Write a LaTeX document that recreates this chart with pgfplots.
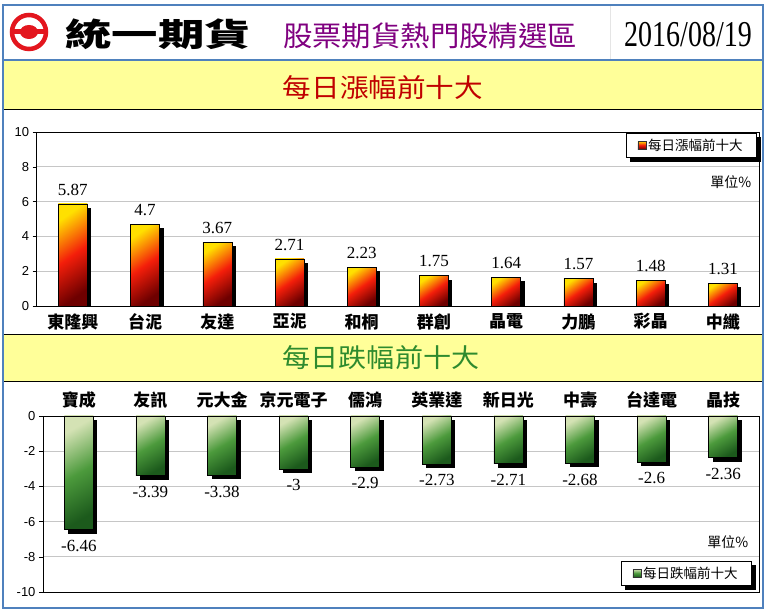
\documentclass[border=0pt]{standalone}
\usepackage{fontspec}
\usepackage{pgfplots}
\usepackage{pgfplotstable}
\pgfplotsset{compat=1.18}
\setmainfont{Liberation Serif}
\newfontfamily\cjk{Noto Sans CJK TC}
\newfontfamily\arial{Liberation Sans}

\definecolor{hdrblue}{HTML}{4F81BD}
\definecolor{bandyellow}{HTML}{FFFF99}
\definecolor{titlered}{HTML}{C00000}
\definecolor{titlepurple}{HTML}{800080}
\definecolor{titlegreen}{HTML}{2E8B2E}
\definecolor{logored}{HTML}{E3161E}
\definecolor{upA}{HTML}{FFE000}
\definecolor{upB}{HTML}{F41E0A}
\definecolor{upC}{HTML}{6E0000}
\definecolor{dnA}{HTML}{D4E2B4}
\definecolor{dnB}{HTML}{4C9A3C}
\definecolor{dnC}{HTML}{1C5A1C}

\newcommand{\fs}[1]{\fontsize{#1}{#1}\selectfont}

% daily % change, top ten up and top ten down
\pgfplotstableread{
i v
0 5.87
1 4.7
2 3.67
3 2.71
4 2.23
5 1.75
6 1.64
7 1.57
8 1.48
9 1.31
}\gains
\pgfplotstableread{
i v
0 -6.46
1 -3.39
2 -3.38
3 -3
4 -2.9
5 -2.73
6 -2.71
7 -2.68
8 -2.6
9 -2.36
}\losses

\pgfplotsset{
  board/.style={
    scale only axis,
    xmin=-0.5, xmax=9.5,
    xtick={0,...,9},
    xtick style={draw=none},
    ytick pos=left,
    ytick style={black, thin},
    tick align=outside,
    major tick length=4pt,
    ymajorgrids,
    grid style={gray!45, line width=0.6pt},
    axis line style={black, line width=0.8pt},
    ybar, bar width=29pt,
    xticklabel style={font=\cjk\bfseries\fs{17}},
    yticklabel style={font=\arial\fs{13}, /pgf/number format/assume math mode=true},
    legend style={draw=black, fill=white, font=\cjk\fs{13.5}, inner xsep=12pt, inner ysep=4pt},
  },
  shadowbar/.style={fill=black, draw=none, bar shift=4pt, yshift=-4pt, forget plot},
  facebar/.style={draw=black, line width=0.5pt, bar shift=0pt, forget plot,
    point meta=explicit symbolic, nodes near coords={\pgfplotspointmeta},
    every node near coord/.append style={font=\fs{17}, text=black}},
  upbar/.style={facebar, top color=upA, bottom color=upC, middle color=upB, shading angle=35},
  dnbar/.style={facebar, top color=dnA, bottom color=dnC, middle color=dnB, shading angle=30},
}

\begin{document}
\begin{tikzpicture}[x=1pt, y=1pt]
\useasboundingbox (0,0) rectangle (766,612);
\fill[white] (0,0) rectangle (766,612);

% frames and bands
\draw[gray!20] (610,552) -- (610,607);
\fill[bandyellow] (3,502) rectangle (763,552);
\fill[bandyellow] (3,230) rectangle (763,277);
\draw[black, line width=1pt] (3,277) rectangle (763,502);
\draw[black, line width=1pt] (3,4) rectangle (763,230);
\draw[hdrblue, line width=1.6pt] (3,4) rectangle (763,607);
\draw[hdrblue, line width=1.6pt] (3,552) -- (763,552);

% logo and header
\draw[logored, line width=4.5pt] (29,580) circle (17);
\fill[logored] (11,577.5) rectangle (47,582.5);
\fill[logored] (29,580) ellipse (9 and 7);
\node[font=\cjk\bfseries\fs{32}, xscale=1.45] at (158,578) {統一期貨};
\node[font=\cjk\fs{28}, text=titlepurple, xscale=1.05] at (430,576) {股票期貨熱門股精選區};
\node[font=\fs{28}, yscale=1.3] at (688,577) {2016/08/19};

\node[font=\cjk\fs{26}, text=titlered, xscale=1.1] at (383,524) {每日漲幅前十大};
\node[font=\cjk\fs{26}, text=titlegreen, xscale=1.08] at (381,254) {每日跌幅前十大};

% top ten gainers
\begin{axis}[board,
  at={(36.7pt,306pt)}, anchor=south west,
  width=722.3pt, height=174pt,
  ymin=0, ymax=10, ytick={0,2,...,10},
  xticklabels={東隆興,台泥,友達,亞泥,和桐,群創,晶電,力鵬,彩晶,中纖},
  nodes near coords align={above},
  every node near coord/.append style={yshift=5pt},
  legend style={at={(0.997,0.997)}, anchor=north east, name=legUp},
  legend image code/.code={\draw[black!80, line width=0.4pt, top color=upA, bottom color=upC, middle color=upB] (0pt,-4pt) rectangle (8pt,4pt);},
]
\pgfplotsinvokeforeach{0,...,9}{
  \addplot[shadowbar, restrict x to domain=#1:#1] table[x=i, y=v] {\gains};
  \addplot[upbar, restrict x to domain=#1:#1] table[x=i, y=v, meta=v] {\gains};
}
\addlegendimage{}
\addlegendentry{每日漲幅前十大}
\node[anchor=east, font=\cjk\fs{14}] at (rel axis cs:0.994,0.713) {單位\%};
\end{axis}
\fill[black] ([yshift=-4pt]legUp.north east) rectangle ([xshift=4pt,yshift=-4pt]legUp.south east);
\fill[black] ([xshift=4pt]legUp.south west) rectangle ([xshift=4pt,yshift=-4pt]legUp.south east);

% top ten losers
\begin{axis}[board,
  at={(43pt,20pt)}, anchor=south west,
  width=716pt, height=176pt,
  ymin=-10, ymax=0, ytick={-10,-8,...,0},
  xticklabel pos=upper,
  xticklabels={寶成,友訊,元大金,京元電子,儒鴻,英業達,新日光,中壽,台達電,晶技},
  nodes near coords align={below},
  every node near coord/.append style={yshift=-7pt},
  legend style={at={(0.99,0.035)}, anchor=south east, name=legDn},
  legend image code/.code={\draw[black!80, line width=0.4pt, top color=dnA, bottom color=dnC, middle color=dnB] (0pt,-4pt) rectangle (8pt,4pt);},
]
\pgfplotsinvokeforeach{0,...,9}{
  \addplot[shadowbar, restrict x to domain=#1:#1] table[x=i, y=v] {\losses};
  \addplot[dnbar, restrict x to domain=#1:#1] table[x=i, y=v, meta=v] {\losses};
}
\addlegendimage{}
\addlegendentry{每日跌幅前十大}
\node[anchor=east, font=\cjk\fs{14}] at (rel axis cs:0.99,0.284) {單位\%};
\end{axis}
\fill[black] ([yshift=-4pt]legDn.north east) rectangle ([xshift=4pt,yshift=-4pt]legDn.south east);
\fill[black] ([xshift=4pt]legDn.south west) rectangle ([xshift=4pt,yshift=-4pt]legDn.south east);
\end{tikzpicture}
\end{document}
